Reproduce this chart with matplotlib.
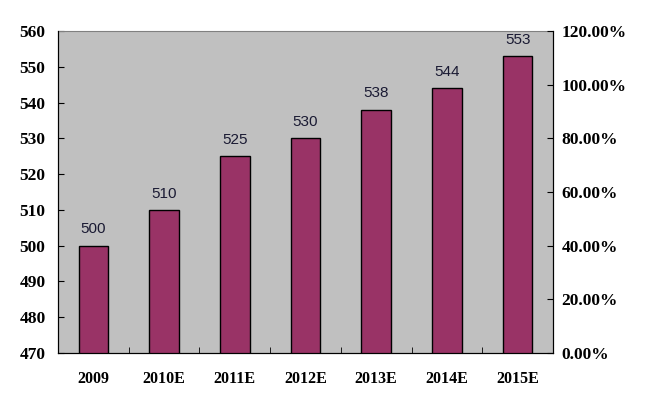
import matplotlib.pyplot as plt
from matplotlib.ticker import FuncFormatter

years = ["2009", "2010E", "2011E", "2012E", "2013E", "2014E", "2015E"]
values = [500, 510, 525, 530, 538, 544, 553]
left_ticks = [470, 480, 490, 500, 510, 520, 530, 540, 550, 560]
right_ticks = [0.0, 0.2, 0.4, 0.6, 0.8, 1.0, 1.2]

bar_color = "#993366"
bg_color = "#c0c0c0"
tick_font = {"family": "Liberation Serif", "weight": "bold", "size": 12.5}

fig = plt.figure(figsize=(6.45, 4.05), dpi=100)
ax = fig.add_axes([58 / 645, 1 - 353 / 405, 495 / 645, 322 / 405])
ax.set_facecolor(bg_color)

x = list(range(len(years)))
ax.bar(x, values, width=0.42, color=bar_color, edgecolor="black", linewidth=1.0, zorder=2)
for xi, v in zip(x, values):
    ax.text(xi, v + 2.6, str(v), ha="center", va="bottom", fontsize=11,
            family="Liberation Sans", color="#1a1a33", zorder=3)

ax.set_xlim(-0.5, len(years) - 0.5)
ax.set_ylim(470, 560)
ax.set_yticks(left_ticks)
ax.set_yticklabels([str(t) for t in left_ticks], fontdict=tick_font)
ax.set_xticks(x)
ax.set_xticklabels(years, fontdict={**tick_font, "size": 11.5})
ax.tick_params(axis="x", length=0, pad=13)
ax.tick_params(axis="y", direction="in", length=4, pad=9)
# tick marks between categories on the x axis
ax.set_xticks([i + 0.5 for i in x[:-1]], minor=True)
ax.tick_params(axis="x", which="minor", direction="in", length=4)

ax.spines["top"].set_color("#808080")
for s in ["left", "right", "bottom"]:
    ax.spines[s].set_color("black")

ax2 = ax.twinx()
ax2.set_ylim(0, 1.2)
ax2.set_yticks(right_ticks)
ax2.yaxis.set_major_formatter(FuncFormatter(lambda v, p: f"{v * 100:.2f}%"))
for lbl in ax2.get_yticklabels():
    lbl.set_fontfamily("Liberation Serif")
    lbl.set_fontweight("bold")
    lbl.set_fontsize(12.5)
ax2.tick_params(axis="y", direction="in", length=4, pad=6)
ax2.spines["top"].set_visible(False)

fig.savefig("out.png", dpi=100, facecolor="white")
